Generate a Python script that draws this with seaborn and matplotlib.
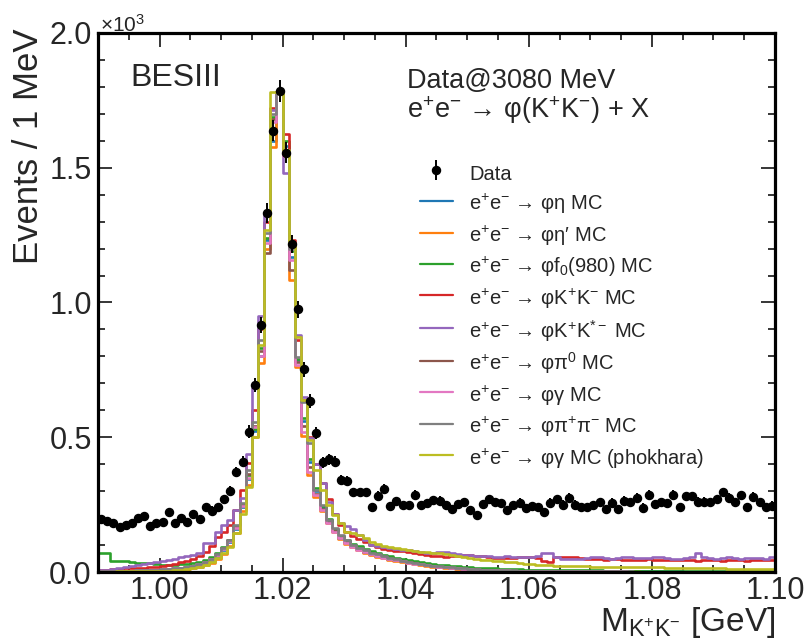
import numpy as np
import matplotlib
matplotlib.use("Agg")
import matplotlib.pyplot as plt
import seaborn as sns
from matplotlib.lines import Line2D
from matplotlib.ticker import MultipleLocator, FuncFormatter

# ---------------- data (events per 1 MeV bin, bins from 0.990 to 1.100 GeV) ----------------
mass_lo = 0.990
bin_w = 0.001
n_bins = 110

data_counts = [
    197, 190, 181, 168, 174, 181, 199, 208, 172, 181,
    187, 221, 183, 200, 184, 214, 196, 242, 228, 240,
    271, 300, 371, 409, 521, 693, 917, 1331, 1638, 1785,
    1556, 1217, 975, 752, 634, 515, 407, 419, 409, 341,
    339, 296, 296, 296, 242, 282, 308, 245, 263, 249,
    249, 286, 249, 255, 267, 265, 249, 235, 251, 260,
    230, 211, 251, 271, 259, 255, 230, 249, 257, 236,
    245, 242, 224, 257, 270, 250, 275, 250, 240, 241,
    247, 260, 235, 257, 233, 265, 259, 276, 239, 287,
    252, 258, 256, 287, 240, 281, 281, 261, 261, 260,
    270, 295, 276, 260, 285, 240, 280, 259, 240, 246,
]

mc_phi_eta = [
    3, 3, 4, 4, 5, 5, 6, 6, 7, 8,
    9, 10, 12, 14, 17, 21, 27, 34, 44, 58,
    80, 110, 160, 240, 345, 525, 800, 1230, 1600, 1780,
    1580, 1170, 785, 560, 410, 300, 240, 190, 155, 130,
    112, 98, 88, 78, 70, 63, 57, 51, 46, 41,
    37, 33, 29, 26, 23, 20, 18, 16, 14, 12,
    11, 10, 9, 8, 7, 7, 6, 6, 5, 5,
    5, 4, 4, 4, 4, 3, 3, 3, 3, 3,
    3, 3, 2, 2, 2, 2, 2, 2, 2, 2,
    2, 2, 2, 2, 2, 1, 1, 1, 1, 1,
    1, 1, 1, 1, 1, 1, 1, 1, 1, 1,
]

mc_phi_etap = [
    2, 2, 2, 3, 3, 3, 4, 4, 5, 5,
    6, 7, 8, 10, 12, 15, 19, 25, 34, 47,
    68, 98, 145, 225, 323, 502, 775, 1200, 1578, 1780,
    1560, 1083, 760, 505, 360, 280, 225, 180, 148, 122,
    105, 92, 82, 72, 64, 57, 51, 46, 41, 37,
    33, 29, 26, 23, 20, 18, 16, 14, 12, 11,
    10, 9, 8, 7, 7, 6, 6, 5, 5, 4,
    4, 4, 4, 3, 3, 3, 3, 3, 2, 2,
    2, 2, 2, 2, 2, 2, 2, 2, 1, 1,
    1, 1, 1, 1, 1, 1, 1, 1, 1, 1,
    1, 1, 1, 1, 1, 1, 1, 1, 1, 1,
]

mc_phi_f0 = [
    72, 72, 42, 42, 40, 38, 34, 32, 32, 28,
    27, 26, 27, 28, 30, 33, 38, 45, 56, 70,
    92, 120, 170, 250, 360, 530, 830, 1240, 1690, 1780,
    1600, 1190, 790, 570, 420, 310, 245, 195, 160, 135,
    118, 105, 95, 85, 77, 70, 64, 58, 53, 48,
    44, 40, 36, 33, 30, 27, 25, 23, 21, 19,
    17, 16, 15, 14, 13, 12, 11, 10, 10, 9,
    9, 8, 8, 8, 7, 7, 7, 6, 6, 6,
    6, 6, 5, 5, 5, 5, 5, 4, 4, 4,
    4, 4, 4, 4, 3, 3, 3, 3, 3, 3,
    3, 3, 3, 3, 3, 2, 2, 2, 2, 2,
]

mc_phi_kk = [
    6, 8, 10, 12, 13, 14, 15, 16, 18, 20,
    22, 25, 30, 36, 42, 50, 60, 75, 95, 130,
    150, 175, 230, 305, 403, 601, 900, 1300, 1720, 1780,
    1625, 1230, 860, 640, 500, 400, 330, 270, 215, 175,
    150, 135, 122, 110, 100, 92, 86, 82, 79, 77,
    75, 72, 68, 64, 61, 58, 57, 58, 60, 62,
    63, 61, 58, 55, 53, 52, 52, 53, 55, 56,
    55, 53, 40, 38, 56, 57, 56, 54, 52, 50,
    48, 47, 46, 47, 48, 46, 45, 44, 46, 47,
    45, 44, 43, 45, 46, 44, 43, 42, 44, 45,
    43, 42, 44, 45, 43, 42, 44, 46, 45, 44,
]

mc_phi_kkstar = [
    7, 9, 11, 14, 18, 22, 26, 30, 33, 36,
    40, 44, 48, 55, 60, 64, 70, 106, 108, 150,
    174, 193, 230, 273, 438, 681, 950, 1331, 1715, 1780,
    1479, 1200, 879, 650, 497, 400, 330, 260, 215, 180,
    171, 160, 137, 120, 100, 95, 92, 88, 85, 83,
    82, 78, 74, 69, 72, 75, 73, 70, 67, 64,
    63, 61, 60, 58, 57, 57, 58, 57, 56, 57,
    57, 58, 72, 70, 55, 48, 47, 47, 50, 53,
    55, 54, 52, 50, 53, 55, 54, 52, 51, 53,
    55, 54, 52, 50, 48, 52, 55, 69, 55, 52,
    50, 52, 54, 52, 50, 51, 53, 52, 50, 55,
]

mc_phi_pi0 = [
    3, 3, 4, 4, 5, 5, 6, 7, 8, 9,
    10, 12, 14, 16, 19, 23, 29, 37, 48, 64,
    88, 118, 170, 250, 365, 540, 820, 1182, 1680, 1780,
    1550, 1120, 780, 540, 390, 290, 235, 185, 152, 128,
    110, 96, 85, 76, 68, 61, 55, 49, 44, 40,
    36, 32, 29, 26, 23, 20, 18, 16, 14, 12,
    11, 10, 9, 8, 7, 6, 6, 5, 5, 4,
    4, 4, 3, 3, 3, 3, 3, 2, 2, 2,
    2, 2, 2, 2, 2, 2, 1, 1, 1, 1,
    1, 1, 1, 1, 1, 1, 1, 1, 1, 1,
    1, 1, 1, 1, 1, 1, 1, 1, 1, 1,
]

mc_phi_gamma = [
    3, 3, 4, 4, 5, 5, 6, 7, 8, 9,
    10, 11, 13, 15, 18, 22, 28, 36, 47, 62,
    85, 115, 165, 245, 350, 539, 800, 1219, 1670, 1780,
    1545, 1158, 768, 520, 372, 285, 230, 182, 150, 125,
    108, 94, 83, 74, 66, 59, 53, 48, 43, 39,
    35, 31, 28, 25, 22, 19, 17, 15, 13, 12,
    10, 9, 8, 7, 7, 6, 6, 5, 5, 4,
    4, 4, 3, 3, 3, 3, 3, 2, 2, 2,
    2, 2, 2, 2, 2, 2, 1, 1, 1, 1,
    1, 1, 1, 1, 1, 1, 1, 1, 1, 1,
    1, 1, 1, 1, 1, 1, 1, 1, 1, 1,
]

mc_phi_pipi = [
    3, 3, 4, 4, 5, 5, 6, 7, 8, 9,
    10, 12, 14, 16, 19, 23, 29, 38, 50, 66,
    90, 120, 175, 255, 378, 558, 860, 1258, 1700, 1780,
    1565, 1200, 799, 632, 478, 304, 249, 193, 162, 137,
    119, 100, 90, 80, 72, 65, 58, 52, 47, 42,
    38, 34, 30, 27, 24, 21, 19, 17, 15, 13,
    11, 10, 9, 8, 7, 7, 6, 6, 5, 5,
    4, 4, 4, 3, 3, 3, 3, 3, 2, 2,
    2, 2, 2, 2, 2, 2, 2, 1, 1, 1,
    1, 1, 1, 1, 1, 1, 1, 1, 1, 1,
    1, 1, 1, 1, 1, 1, 1, 1, 1, 1,
]

mc_phi_gamma_phokhara = [
    1, 1, 1, 2, 2, 2, 3, 3, 3, 4,
    4, 5, 6, 8, 10, 14, 18, 26, 38, 51,
    69, 94, 143, 215, 317, 502, 842, 1269, 1782, 1782,
    1566, 1213, 873, 638, 490, 378, 304, 249, 211, 181,
    150, 144, 137, 125, 112, 104, 98, 93, 89, 85,
    82, 79, 76, 74, 71, 69, 66, 62, 58, 55,
    51, 49, 46, 44, 42, 40, 38, 36, 33, 31,
    29, 27, 26, 25, 24, 23, 22, 22, 21, 21,
    20, 20, 19, 19, 19, 18, 18, 18, 18, 17,
    17, 17, 16, 16, 16, 15, 15, 14, 14, 13,
    13, 13, 12, 12, 12, 11, 11, 11, 10, 10,
]

mc_labels = [
    r"e$^{+}$e$^{-}$ → φη MC",
    r"e$^{+}$e$^{-}$ → φη′ MC",
    r"e$^{+}$e$^{-}$ → φf$_{0}$(980) MC",
    r"e$^{+}$e$^{-}$ → φK$^{+}$K$^{-}$ MC",
    r"e$^{+}$e$^{-}$ → φK$^{+}$K$^{*-}$ MC",
    r"e$^{+}$e$^{-}$ → φπ$^{0}$ MC",
    r"e$^{+}$e$^{-}$ → φγ MC",
    r"e$^{+}$e$^{-}$ → φπ$^{+}$π$^{-}$ MC",
    r"e$^{+}$e$^{-}$ → φγ MC (phokhara)",
]
mc_series = [mc_phi_eta, mc_phi_etap, mc_phi_f0, mc_phi_kk, mc_phi_kkstar,
             mc_phi_pi0, mc_phi_gamma, mc_phi_pipi, mc_phi_gamma_phokhara]

# ---------------- style ----------------
sns.set_theme(style="ticks")
plt.rcParams['font.family'] = ['Liberation Sans', 'DejaVu Sans']
plt.rcParams['mathtext.fontset'] = 'custom'
plt.rcParams['mathtext.rm'] = 'Liberation Sans'
plt.rcParams['mathtext.it'] = 'Liberation Sans:italic'
plt.rcParams['mathtext.bf'] = 'Liberation Sans:bold'
plt.rcParams['mathtext.sf'] = 'Liberation Sans'
plt.rcParams['mathtext.default'] = 'regular'

colors = sns.color_palette("tab10", 9)

edges = np.round(mass_lo + bin_w * np.arange(n_bins + 1), 4)
centers = 0.5 * (edges[:-1] + edges[1:])
edge_list = [float(e) for e in edges]

fig = plt.figure(figsize=(8.09, 6.44), dpi=100)
ax = fig.add_axes([0.1211, 0.1118, 0.8369, 0.8370])

for vals, col in zip(mc_series, colors):
    sns.histplot(x=centers, weights=np.asarray(vals, dtype=float), bins=edge_list,
                 element="step", fill=False, color=col, linewidth=1.9, ax=ax)

data_arr = np.array(data_counts, dtype=float)
eb = ax.errorbar(centers, data_arr, yerr=np.sqrt(data_arr), fmt='o', color='black',
                 markersize=5.8, elinewidth=1.4, capsize=0, zorder=10)

ax.set_xlim(0.99, 1.10)
ax.set_ylim(0, 2000)

ax.xaxis.set_major_locator(MultipleLocator(0.02))
ax.xaxis.set_minor_locator(MultipleLocator(0.005))
ax.yaxis.set_major_locator(MultipleLocator(500))
ax.yaxis.set_minor_locator(MultipleLocator(100))
ax.yaxis.set_major_formatter(FuncFormatter(lambda v, p: f"{v/1000:.1f}"))
ax.xaxis.set_major_formatter(FuncFormatter(lambda v, p: f"{v:.2f}"))

ax.tick_params(which='both', direction='in', top=True, right=True, color='black')
ax.tick_params(which='major', length=10, width=1.1, labelsize=22)
ax.tick_params(which='minor', length=5, width=1.1)
ax.tick_params(axis='x', which='major', pad=3)
ax.tick_params(axis='y', which='major', pad=4.5)
for s in ax.spines.values():
    s.set_linewidth(2.3)
    s.set_color('black')

ax.set_ylabel("Events / 1 MeV", fontsize=25, loc='top')
ax.yaxis.set_label_coords(-0.078, 1.009)
ax.set_xlabel(r"M$_{K^{+}K^{-}}$ [GeV]", fontsize=24, loc='right')
ax.xaxis.label.set_va('baseline')
ax.xaxis.set_label_coords(1.0, -0.1095)

ax.text(0.003, 1.003, r"×10$^{3}$", transform=ax.transAxes, fontsize=15,
        ha='left', va='baseline')
ax.text(0.048, 0.902, "BESIII", transform=ax.transAxes, fontsize=23,
        ha='left', va='baseline')
ax.text(0.456, 0.897, "Data@3080 MeV", transform=ax.transAxes, fontsize=19.5,
        ha='left', va='baseline')
ax.text(0.456, 0.843, r"e$^{+}$e$^{-}$ → φ(K$^{+}$K$^{-}$) + X", transform=ax.transAxes,
        fontsize=19.5, ha='left', va='baseline')

handles = [eb] + [Line2D([], [], color=c, lw=1.6) for c in colors]
labels = ["Data"] + mc_labels
ax.legend(handles, labels, loc='upper left', bbox_to_anchor=(0.4756, 0.7625),
          frameon=False, fontsize=14.5, borderaxespad=0, borderpad=0,
          handlelength=1.64, handletextpad=0.8, handleheight=1.45,
          labelspacing=0.34)

fig.savefig("out.png", dpi=100)
